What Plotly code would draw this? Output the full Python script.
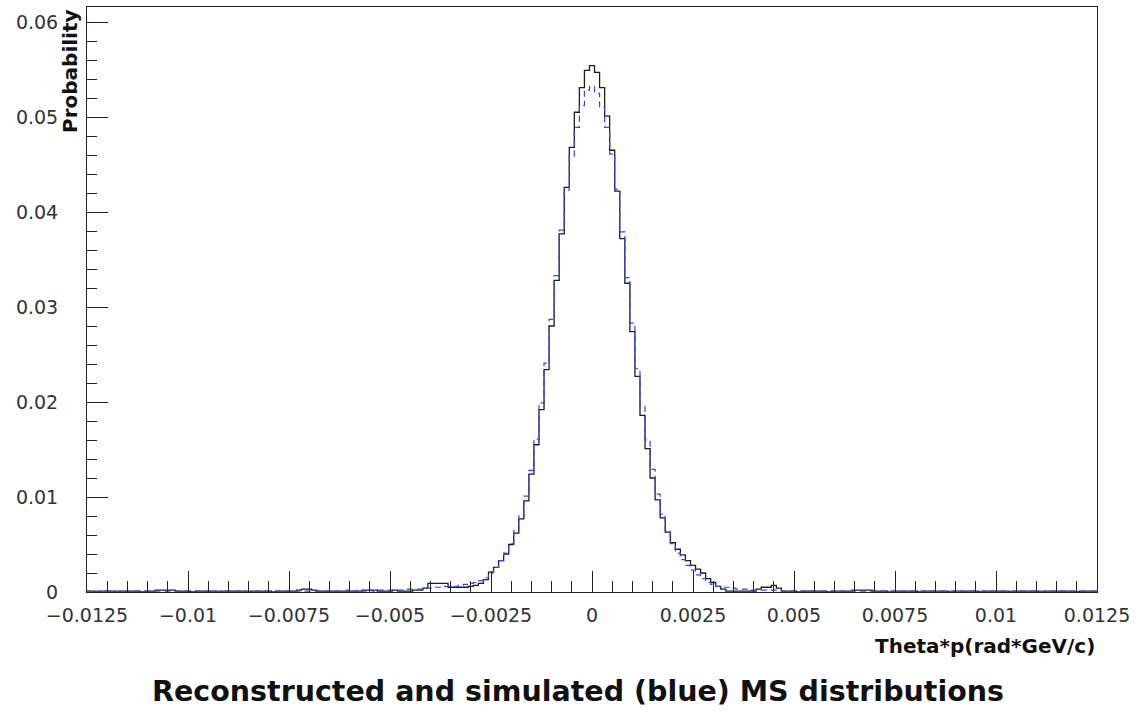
import numpy as np
import plotly.graph_objects as go

# ---- histogram binning (bin centres at k*BIN_W, k = K_FIRST..K_LAST) ----
BIN_W = 0.000125
K_FIRST = -100
K_LAST = 100

# ---- reconstructed (black) : bins k=-100..-34 ----
BLACK_LEFT_TAIL = [
    0.0001, 0.0001, 0.0000, 0.0001, 0.0001, 0.0001, 0.0000, 0.0001, 0.0001, 0.0001, 0.0001, 0.0000, 0.0001, 0.0001,
    0.0002, 0.0002, 0.0002, 0.0002,
    0.0001, 0.0001, 0.0001, 0.0000, 0.0001, 0.0001, 0.0001, 0.0001, 0.0000, 0.0001, 0.0001, 0.0001,
    0.0001, 0.0001, 0.0000, 0.0001, 0.0001, 0.0001, 0.0001, 0.0000, 0.0001, 0.0001, 0.0001, 0.0001,
    0.0002, 0.0003, 0.0003, 0.0002,
    0.0001, 0.0001, 0.0001, 0.0001, 0.0001, 0.0001, 0.0001, 0.0001, 0.0001, 0.0002,
    0.0002, 0.0002, 0.0001, 0.0001, 0.0001, 0.0002,
    0.0001, 0.0001, 0.0001, 0.0002, 0.0002,
]
# bins k=-33..37
BLACK_CORE = [
    0.0004,
    0.0009, 0.0009, 0.0009, 0.0009,
    0.0005, 0.0005, 0.0005, 0.0005,
    0.0006, 0.0007, 0.0009, 0.0013,
    0.0021, 0.0026, 0.0033, 0.0040, 0.0050, 0.0062, 0.0077, 0.0096, 0.0124, 0.0155,
    0.0192, 0.0234, 0.0280, 0.0328, 0.0377, 0.0426, 0.0468, 0.0505, 0.0531, 0.0549,
    0.0554,
    0.0547, 0.0531, 0.0501, 0.0465, 0.0422, 0.0372, 0.0325, 0.0274,
    0.0227, 0.0186, 0.0151, 0.0120, 0.0097, 0.0078, 0.0063, 0.0052,
    0.0045, 0.0039, 0.0033, 0.0028, 0.0024, 0.0020, 0.0014, 0.0010, 0.0006, 0.0003,
    0.0001, 0.0001, 0.0001, 0.0001, 0.0001, 0.0001,
    0.0003, 0.0005, 0.0005, 0.0007, 0.0004,
]
# bins k=38..100
BLACK_RIGHT_TAIL = [
    0.0001, 0.0001, 0.0001, 0.0000, 0.0001, 0.0001, 0.0001, 0.0001, 0.0001, 0.0000, 0.0001, 0.0001, 0.0001, 0.0001,
    0.0002, 0.0002, 0.0002, 0.0002,
    0.0001, 0.0001, 0.0001, 0.0000, 0.0001, 0.0001, 0.0001, 0.0001, 0.0001, 0.0000, 0.0001, 0.0001, 0.0001,
    0.0001, 0.0001, 0.0000, 0.0001, 0.0001, 0.0001, 0.0001, 0.0001, 0.0000, 0.0001, 0.0001, 0.0001, 0.0001,
    0.0001, 0.0000, 0.0001, 0.0001, 0.0001, 0.0001, 0.0001, 0.0000, 0.0001, 0.0001, 0.0001, 0.0001,
    0.0001, 0.0001, 0.0000, 0.0001, 0.0001, 0.0001, 0.0001,
]

# ---- simulated (blue, dashed) : bins k=-100..-34 ----
BLUE_LEFT_TAIL = [
    0.0001, 0.0001, 0.0001, 0.0001, 0.0001, 0.0001, 0.0001, 0.0001, 0.0001, 0.0001, 0.0001, 0.0001, 0.0001, 0.0001,
    0.0001, 0.0001, 0.0001, 0.0001,
    0.0001, 0.0001, 0.0001, 0.0001, 0.0001, 0.0001, 0.0001, 0.0001, 0.0001, 0.0001, 0.0001, 0.0001,
    0.0001, 0.0001, 0.0001, 0.0001, 0.0001, 0.0001, 0.0001, 0.0001, 0.0001, 0.0001, 0.0001, 0.0001,
    0.0001, 0.0001, 0.0001, 0.0001,
    0.0001, 0.0001, 0.0001, 0.0001, 0.0001, 0.0001, 0.0002, 0.0001, 0.0002, 0.0001,
    0.0002, 0.0001, 0.0002, 0.0002, 0.0002, 0.0002,
    0.0002, 0.0002, 0.0003, 0.0003, 0.0003,
]
# bins k=-33..37
BLUE_CORE = [
    0.0004, 0.0004, 0.0005, 0.0005, 0.0006,
    0.0006, 0.0006, 0.0007, 0.0008, 0.0009, 0.0010, 0.0012, 0.0015,
    0.0020, 0.0026, 0.0033, 0.0041, 0.0051, 0.0064, 0.0080, 0.0101, 0.0128, 0.0161,
    0.0199, 0.0241, 0.0287, 0.0333, 0.0381, 0.0423, 0.0459, 0.0489, 0.0512, 0.0528,
    0.0532,
    0.0525, 0.0510, 0.0489, 0.0461, 0.0424, 0.0379, 0.0331, 0.0283,
    0.0235, 0.0195, 0.0160, 0.0129, 0.0103, 0.0082, 0.0065, 0.0051,
    0.0041, 0.0034, 0.0028, 0.0023, 0.0018, 0.0014, 0.0010, 0.0008, 0.0006, 0.0005,
    0.0005, 0.0004, 0.0003, 0.0003, 0.0003, 0.0002, 0.0002, 0.0002, 0.0002, 0.0002, 0.0002,
]
# bins k=38..100
BLUE_RIGHT_TAIL = [
    0.0001, 0.0001, 0.0001, 0.0001, 0.0001, 0.0001, 0.0001, 0.0001, 0.0001, 0.0001, 0.0001, 0.0001, 0.0001, 0.0001,
    0.0001, 0.0001, 0.0001, 0.0001,
    0.0001, 0.0001, 0.0001, 0.0001, 0.0001, 0.0001, 0.0001, 0.0001, 0.0001, 0.0001, 0.0001, 0.0001, 0.0001,
    0.0001, 0.0001, 0.0001, 0.0001, 0.0001, 0.0001, 0.0001, 0.0001, 0.0001, 0.0001, 0.0001, 0.0001, 0.0001,
    0.0001, 0.0001, 0.0001, 0.0001, 0.0001, 0.0001, 0.0001, 0.0001, 0.0001, 0.0001, 0.0001, 0.0001,
    0.0001, 0.0001, 0.0001, 0.0001, 0.0001, 0.0001, 0.0001,
]

X_TICK_VALS = [-0.0125, -0.01, -0.0075, -0.005, -0.0025, 0, 0.0025, 0.005, 0.0075, 0.01, 0.0125]
X_TICK_TEXT = ["\u22120.0125", "\u22120.01", "\u22120.0075", "\u22120.005", "\u22120.0025", "0",
               "0.0025", "0.005", "0.0075", "0.01", "0.0125"]
Y_TICK_VALS = [0, 0.01, 0.02, 0.03, 0.04, 0.05, 0.06]
Y_TICK_TEXT = ["0", "0.01", "0.02", "0.03", "0.04", "0.05", "0.06"]

X_RANGE = [-0.0125, 0.0125]
Y_RANGE = [0, 0.06158]

TITLE = "Reconstructed and simulated (blue) MS distributions"
X_TITLE = "Theta*p(rad*GeV/c)"
Y_TITLE = "Probability"

black = np.array(BLACK_LEFT_TAIL + BLACK_CORE + BLACK_RIGHT_TAIL)
blue = np.array(BLUE_LEFT_TAIL + BLUE_CORE + BLUE_RIGHT_TAIL)
assert len(black) == K_LAST - K_FIRST + 1, len(black)
assert len(blue) == K_LAST - K_FIRST + 1, len(blue)

edges = (np.arange(K_FIRST, K_LAST + 2) - 0.5) * BIN_W


def step(vals):
    return edges, np.append(vals, vals[-1])


fig = go.Figure()
bx, by = step(black)
fig.add_trace(go.Scatter(x=bx, y=by, mode="lines", line=dict(shape="hv", color="#1e1e1e", width=1.3),
                         showlegend=False, hoverinfo="skip"))
ux, uy = step(blue)
fig.add_trace(go.Scatter(x=ux, y=uy, mode="lines",
                         line=dict(shape="hv", color="#2f45ff", width=1.2, dash="6px,4px"),
                         showlegend=False, hoverinfo="skip"))

tickfont = dict(family="DejaVu Sans", size=19, color="#333333")
W, H = 1143, 716
L, R, T, B = 87, 46, 7, 123.5
fig.update_layout(
    width=W, height=H,
    margin=dict(l=L, r=R, t=T, b=B, pad=0),
    paper_bgcolor="white", plot_bgcolor="white",
    xaxis=dict(range=X_RANGE, tickmode="array", tickvals=X_TICK_VALS, ticktext=X_TICK_TEXT,
               ticks="inside", ticklen=21, tickwidth=1, tickcolor="#222",
               showline=True, linecolor="#222", linewidth=1, mirror=True,
               showgrid=False, zeroline=False, tickfont=tickfont, ticklabelstandoff=6,
               minor=dict(ticks="inside", ticklen=11, tickwidth=1, tickcolor="#222",
                          tick0=0, dtick=0.0005, showgrid=False)),
    yaxis=dict(range=Y_RANGE, tickmode="array", tickvals=Y_TICK_VALS, ticktext=Y_TICK_TEXT,
               ticks="inside", ticklen=21, tickwidth=1, tickcolor="#222",
               showline=True, linecolor="#222", linewidth=1, mirror=True,
               showgrid=False, zeroline=False, tickfont=tickfont, ticklabelstandoff=24,
               minor=dict(ticks="inside", ticklen=10, tickwidth=1, tickcolor="#222",
                          tick0=0, dtick=0.002, showgrid=False)),
)

pw = W - L - R
ph = H - T - B
fig.add_annotation(text=Y_TITLE, xref="paper", yref="paper", x=(70 - L) / pw, y=1.0,
                   xanchor="center", yanchor="top", textangle=-90, showarrow=False,
                   font=dict(family="DejaVu Sans", size=20, color="#111", weight="bold"))
fig.add_annotation(text=X_TITLE, xref="paper", yref="paper", x=1.0, y=-(647 - (T + ph)) / ph,
                   xanchor="right", yanchor="middle", showarrow=False,
                   font=dict(family="DejaVu Sans", size=20, color="#111", weight="bold"))
fig.add_annotation(text=TITLE, xref="paper", yref="paper", x=(578 - L) / pw, y=-(692 - (T + ph)) / ph,
                   xanchor="center", yanchor="middle", showarrow=False,
                   font=dict(family="DejaVu Sans", size=28.5, color="#111", weight="bold"))

fig.write_html("out.html", config={"displayModeBar": False},
               post_script="document.body.style.margin='0px';")
